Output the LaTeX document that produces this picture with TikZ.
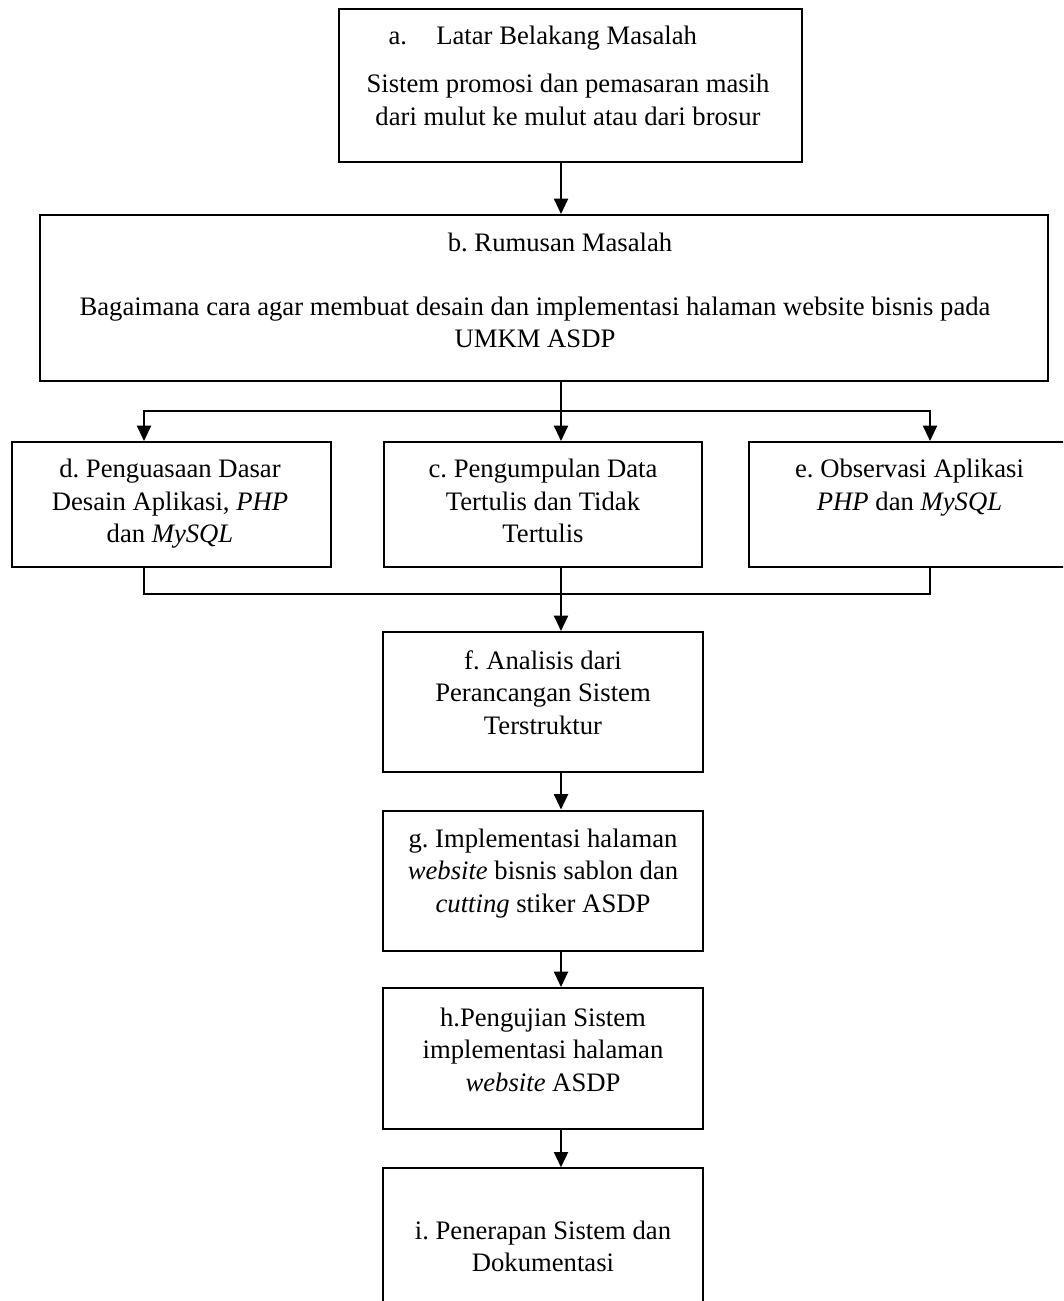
\documentclass[tikz,border=0pt]{standalone}
\usepackage{fontspec}
\setmainfont{Liberation Serif}
\usetikzlibrary{arrows.meta}
\frenchspacing

\tikzset{every picture/.style={line width=0.75pt}}
\tikzset{
  flowbox/.style={draw, line width=1.5pt, inner sep=0pt},
  flowarrow/.style={line width=1.5pt, -{Triangle[length=11.5pt,width=10.5pt]}},
  flowline/.style={line width=1.5pt},
  flowtext/.style={inner sep=0pt, align=center, font=\fontsize{20}{24.4}\selectfont}
}

\begin{document}
\begin{tikzpicture}[x=0.75pt,y=0.75pt,yscale=-1,xscale=1]
    \useasboundingbox (0,0) rectangle (1063,1301);
    \clip (0,0) rectangle (1063,1301);

    %Shape: Rectangle [id:a]
    \draw (570.5,85.5) node [flowbox, minimum width=347.25pt, minimum height=114.75pt] (a) {};
    %Shape: Rectangle [id:b]
    \draw (544,298) node [flowbox, minimum width=756pt, minimum height=124.5pt] (b) {};
    %Shape: Rectangle [id:d]
    \draw (171.5,504.5) node [flowbox, minimum width=239.25pt, minimum height=93.75pt] (d) {};
    %Shape: Rectangle [id:c]
    \draw (543,504.5) node [flowbox, minimum width=238.5pt, minimum height=93.75pt] (c) {};
    %Shape: Rectangle [id:e]
    \draw (909.5,504.5) node [flowbox, minimum width=240.75pt, minimum height=93.75pt] (e) {};
    %Shape: Rectangle [id:f]
    \draw (543,702) node [flowbox, minimum width=240pt, minimum height=105pt] (f) {};
    %Shape: Rectangle [id:g]
    \draw (543,880.5) node [flowbox, minimum width=240pt, minimum height=105pt] (g) {};
    %Shape: Rectangle [id:h]
    \draw (543,1058.5) node [flowbox, minimum width=240pt, minimum height=105.75pt] (h) {};
    %Shape: Rectangle [id:i]
    \draw (543,1249) node [flowbox, minimum width=240pt, minimum height=121pt] (i) {};

    \coordinate (spine) at (561,0);
    \coordinate (split) at (561,411);
    \coordinate (splitL) at (144,411);
    \coordinate (splitR) at (930,411);
    \coordinate (join) at (561,594);
    \coordinate (joinL) at (144,594);
    \coordinate (joinR) at (930,594);

    %Straight Lines
    \draw [flowarrow] (a.south -| spine) -- (b.north -| spine);
    \draw [flowline] (b.south -| spine) -- (split);
    \draw [flowarrow] (split) -- (c.north -| split);
    \draw [flowarrow] (split) -- (splitL) -- (d.north -| splitL);
    \draw [flowarrow] (split) -- (splitR) -- (e.north -| splitR);
    %Straight Lines
    \draw [flowline] (d.south -| joinL) -- (joinL) -- (joinR) -- (e.south -| joinR);
    \draw [flowarrow] (c.south -| join) -- (f.north -| join);
    \draw [flowarrow] (f.south -| spine) -- (g.north -| spine);
    \draw [flowarrow] (g.south -| spine) -- (h.north -| spine);
    \draw [flowarrow] (h.south -| spine) -- (i.north -| spine);

    % Text Node
    \draw (388,45) node [flowtext, anchor=base west] (atitle) {a.\hspace{22pt}Latar Belakang Masalah};
    % Text Node
    \draw (568,73.5) node [flowtext, anchor=north] (atext) {Sistem promosi dan pemasaran masih\\dari mulut ke mulut atau dari brosur};
    % Text Node
    \draw (560,232) node [flowtext, anchor=north] (btitle) {b. Rumusan Masalah};
    % Text Node
    \draw (535,296) node [flowtext, anchor=north] (btext) {Bagaimana cara agar membuat desain dan implementasi halaman website bisnis pada\\UMKM ASDP};
    % Text Node
    \draw (170,458.5) node [flowtext, anchor=north] (dtext) {d. Penguasaan Dasar\\Desain Aplikasi, \textit{PHP}\\dan \textit{MySQL}};
    % Text Node
    \draw (543,458.5) node [flowtext, anchor=north] (ctext) {c. Pengumpulan Data\\Tertulis dan Tidak\\Tertulis};
    % Text Node
    \draw (909.5,458.5) node [flowtext, anchor=north] (etext) {e. Observasi Aplikasi\\\textit{PHP} dan \textit{MySQL}};
    % Text Node
    \draw (543,650) node [flowtext, anchor=north] (ftext) {f. Analisis dari\\Perancangan Sistem\\Terstruktur};
    % Text Node
    \draw (543,828) node [flowtext, anchor=north] (gtext) {g. Implementasi halaman\\\textit{website} bisnis sablon dan\\\textit{cutting} stiker ASDP};
    % Text Node
    \draw (543,1007) node [flowtext, anchor=north] (htext) {h.Pengujian Sistem\\implementasi halaman\\\textit{website} ASDP};
    % Text Node
    \draw (543,1220) node [flowtext, anchor=north] (itext) {i. Penerapan Sistem dan\\Dokumentasi};

\end{tikzpicture}
\end{document}
